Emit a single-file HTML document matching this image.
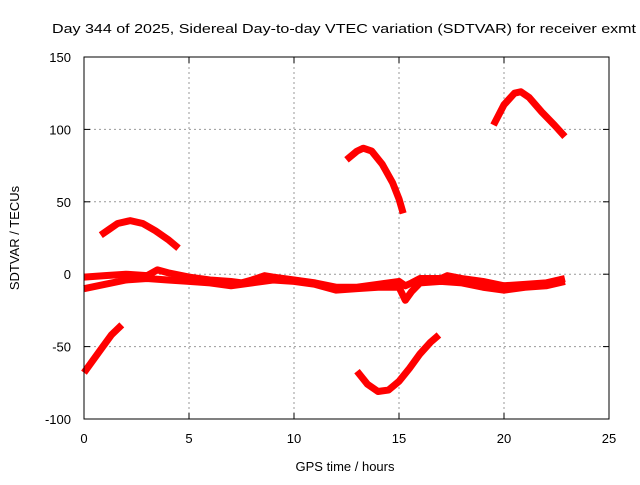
<!DOCTYPE html>
<html><head><meta charset="utf-8"><style>
body{margin:0;background:#fff}
text{font-family:"Liberation Sans",sans-serif;font-size:13px;fill:#000}
</style></head><body>
<svg id="c" width="640" height="480">
<text x="52" y="33" font-size="15" textLength="584" lengthAdjust="spacingAndGlyphs">Day 344 of 2025, Sidereal Day-to-day VTEC variation (SDTVAR) for receiver exmt</text>
<text x="345" y="471" text-anchor="middle" font-size="14">GPS time / hours</text>
<text transform="translate(19,238) rotate(-90)" text-anchor="middle" font-size="14">SDTVAR / TECUs</text>
<g id="grid"></g><g id="marks"></g>
<rect x="84" y="57" width="525" height="362" fill="none" stroke="#000"/>
</svg>
<script>
const xTicks=[0,5,10,15,20,25];
const yTicks=[-100,-50,0,50,100,150];
const arc1X=[0.8,1.2,1.6,2.2,2.8,3.4,4.0,4.5];
const arc1Y=[27,31,35,37,35,30,24,18];
const low1X=[0,0.4,0.9,1.3,1.8];
const low1Y=[-68,-60,-50,-42,-35];
const arc2X=[12.5,13.0,13.3,13.7,14.2,14.7,15.0,15.2];
const arc2Y=[79,85,87,85,76,63,52,42];
const low2X=[13.0,13.5,14.0,14.5,15.0,15.5,16.0,16.5,16.9];
const low2Y=[-67,-76,-81,-80,-74,-65,-55,-47,-42];
const arc3X=[19.5,20.0,20.5,20.8,21.2,21.8,22.4,22.9];
const arc3Y=[103,117,125,126,122,112,103,95];
const bandAX=[0,1,2,3,3.5,4,5,6,7,7.5,8,8.6,9,10,11,12,13,14,15,15.3,15.6,16,17,17.3,18,19,20,21,22,22.9];
const bandAY=[-2,-1,0,-1,3,1,-2,-4,-5,-6,-4,-1,-2,-4,-6,-9,-9,-7,-5,-8,-6,-3,-3,-1,-3,-5,-8,-7,-6,-3];
const bandBX=[0,1,2,3,4,5,6,7,8,9,10,11,12,13,14,15,15.3,15.6,16,17,18,19,20,21,22,22.9];
const bandBY=[-10,-7,-4,-3,-4,-5,-6,-8,-6,-4,-5,-7,-11,-10,-9,-9,-18,-12,-6,-5,-6,-9,-11,-9,-8,-5];
const X=v=>84+v*21, Y=v=>274.2-v*1.448;
const NS='http://www.w3.org/2000/svg';
const svg=document.getElementById('c'),grid=document.getElementById('grid'),marks=document.getElementById('marks');
function mk(tag,attrs,parent){const e=document.createElementNS(NS,tag);for(const k in attrs)e.setAttribute(k,attrs[k]);parent.appendChild(e);return e;}
xTicks.forEach(t=>{
 if(t>0&&t<25){const l=mk('line',{x1:X(t),x2:X(t),y1:57,y2:419,stroke:'#999','stroke-dasharray':'2,3'},grid);
 
 }
 mk('line',{x1:X(t),x2:X(t),y1:419,y2:413,stroke:'#000'},grid);
 mk('line',{x1:X(t),x2:X(t),y1:57,y2:63,stroke:'#000'},grid);
 const tx=mk('text',{x:X(t),y:443,'text-anchor':'middle','font-size':14},grid);tx.textContent=t;
 
 
});
yTicks.forEach(t=>{
 if(t>-100&&t<150){const l=mk('line',{x1:84,x2:609,y1:Y(t),y2:Y(t),stroke:'#999','stroke-dasharray':'2,3'},grid);
 
 }
 mk('line',{x1:84,x2:90,y1:Y(t),y2:Y(t),stroke:'#000'},grid);
 mk('line',{x1:609,x2:603,y1:Y(t),y2:Y(t),stroke:'#000'},grid);
 const tx=mk('text',{x:71,y:Y(t)+5,'text-anchor':'end','font-size':14},grid);tx.textContent=t;
 
 
});
function series(xs,ys,name,w){
 const p=mk('polyline',{points:xs.map((x,i)=>X(x)+','+Y(ys[i])).join(' '),fill:'none',stroke:'#f00','stroke-width':w,'stroke-linejoin':'round'},marks);
 
 
}
series(arc1X,arc1Y,'series-arc-1',7);
series(low1X,low1Y,'series-low-1',7);
series(arc2X,arc2Y,'series-arc-2',7);
series(low2X,low2Y,'series-low-2',7);
series(arc3X,arc3Y,'series-arc-3',7);
series(bandAX,bandAY,'series-band-a',7);
series(bandBX,bandBY,'series-band-b',7);
</script>
</body></html>
